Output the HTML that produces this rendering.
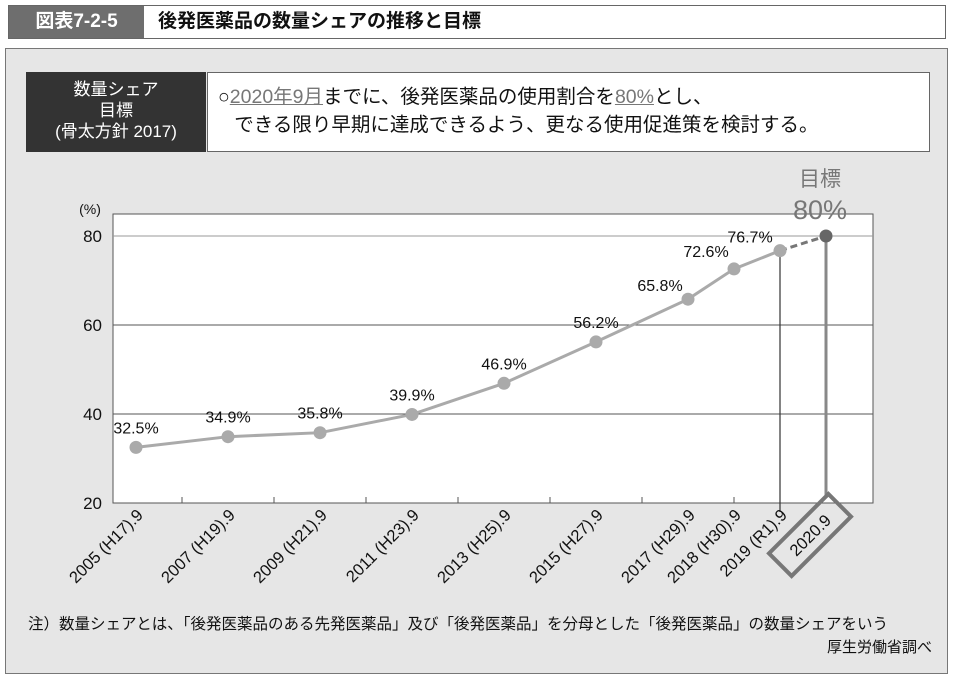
<!DOCTYPE html>
<html><head><meta charset="utf-8"><style>
body{margin:0;width:956px;height:680px;background:#fff;font-family:"Liberation Sans","Noto Sans CJK JP",sans-serif;overflow:hidden;position:relative}
.abs{position:absolute}
</style></head><body>
<div class="abs" style="left:8px;top:5px;width:938px;height:34px;border:1px solid #666;background:#fff;box-sizing:border-box"></div>
<div class="abs" style="left:9px;top:6px;width:135px;height:32px;background:#6e6e6e;color:#fff;font-weight:bold;font-size:19px;line-height:32px;text-align:center">図表7-2-5</div>
<div class="abs" style="left:158px;top:6px;height:32px;line-height:32px;font-weight:bold;font-size:19px;color:#111">後発医薬品の数量シェアの推移と目標</div>
<div class="abs" style="left:5px;top:48px;width:943px;height:626px;background:#e6e6e6;border:1px solid #777;box-sizing:border-box"></div>
<div class="abs" style="left:26px;top:72px;width:180px;height:80px;background:#333;color:#fff;font-size:17px;line-height:21px;text-align:center;padding-top:7px;box-sizing:border-box">数量シェア<br>目標<br>(骨太方針 2017)</div>
<div class="abs" style="left:207px;top:72px;width:723px;height:80px;background:#fff;border:1px solid #666;box-sizing:border-box;font-size:19.5px;line-height:28px;padding:10px 0 0 10px;color:#111;white-space:nowrap">○<span style="color:#777;text-decoration:underline">2020年9月</span>までに、後発医薬品の使用割合を<span style="color:#777;text-decoration:underline">80%</span>とし、<br>&nbsp;&nbsp;&nbsp;できる限り早期に達成できるよう、更なる使用促進策を検討する。</div>
<svg class="abs" style="left:0;top:0" width="956" height="680" id="chart"></svg>
<div class="abs" style="left:28px;top:612px;font-size:15.5px;color:#111;white-space:nowrap">注）数量シェアとは、「後発医薬品のある先発医薬品」及び「後発医薬品」を分母とした「後発医薬品」の数量シェアをいう</div>
<div class="abs" style="right:24px;top:636px;font-size:15px;color:#111">厚生労働省調べ</div>
<script>
const years=[2005,2007,2009,2011,2013,2015,2017,2018,2019];
const labels=["2005 (H17).9","2007 (H19).9","2009 (H21).9","2011 (H23).9","2013 (H25).9","2015 (H27).9","2017 (H29).9","2018 (H30).9","2019 (R1).9"];
const values=[32.5,34.9,35.8,39.9,46.9,56.2,65.8,72.6,76.7];
const targetYear=2020, targetValue=80;
const yTicks=[20,40,60,80];
const xTickYears=[2006,2008,2010,2012,2014,2016,2018];
const NS="http://www.w3.org/2000/svg";
const svg=document.getElementById('chart');
const X=y=>136+(y-2005)*46;
const Y=v=>503-(v-20)*89/20;
function el(t,a,p){const e=document.createElementNS(NS,t);for(const k in a)e.setAttribute(k,a[k]);(p||svg).appendChild(e);return e;}
let r=el('rect',{x:113,y:214,width:760,height:289,fill:'#fff',stroke:'#555','stroke-width':1});

yTicks.forEach(v=>{
  if(v>20){let g=el('line',{x1:113,x2:873,y1:Y(v),y2:Y(v),stroke:v==80?'#999':'#555','stroke-width':1});
  }
  let t=el('text',{x:102,y:Y(v)+6,'text-anchor':'end','font-size':17,fill:'#111'});t.textContent=v;
  
});
let yu=el('text',{x:90,y:214,'text-anchor':'middle','font-size':14,fill:'#111'});yu.textContent='(%)';

xTickYears.forEach(y=>{let t=el('line',{x1:X(y),x2:X(y),y1:497,y2:503,stroke:'#555'});
});
let d1=el('line',{x1:X(2019),x2:X(2019),y1:Y(76.7),y2:512,stroke:'#333','stroke-width':1.2});

let d2=el('line',{x1:X(targetYear),x2:X(targetYear),y1:Y(targetValue),y2:498,stroke:'#888','stroke-width':3});

let pts=years.map((y,i)=>X(y)+','+Y(values[i])).join(' ');
let pl=el('polyline',{points:pts,fill:'none',stroke:'#aaa','stroke-width':3});

let dl=el('line',{x1:X(2019),y1:Y(76.7),x2:X(targetYear),y2:Y(targetValue),stroke:'#777','stroke-width':3,'stroke-dasharray':'7,4'});

years.forEach((y,i)=>{
  let c=el('circle',{cx:X(y),cy:Y(values[i]),r:6.5,fill:'#aaa'});
  
  let t=el('text',{x:X(y),y:Y(values[i])-14,'text-anchor':'middle','font-size':16,fill:'#111'});
  if(i==8){t.setAttribute('x',X(y)-30);t.setAttribute('y',Y(values[i])-8);}
  else if(i==7){t.setAttribute('x',X(y)-28);t.setAttribute('y',Y(values[i])-12);}
  else if(i==6){t.setAttribute('x',X(y)-28);t.setAttribute('y',Y(values[i])-8);}
  t.textContent=values[i].toFixed(1)+'%';
  
  let l=el('text',{transform:`translate(${X(y)+8},${516}) rotate(-45)`,'text-anchor':'end','font-size':16.5,fill:'#111'});
  l.textContent=labels[i];
  
});
let tc=el('circle',{cx:X(targetYear),cy:Y(targetValue),r:6.5,fill:'#666'});

let tt=el('text',{x:X(targetYear)-6,y:186,'text-anchor':'middle','font-size':21,fill:'#777'});tt.textContent='目標';

let tv=el('text',{x:X(targetYear)-6,y:219,'text-anchor':'middle','font-size':27,fill:'#777'});tv.textContent=targetValue+'%';

let g=el('g',{transform:`translate(${X(targetYear)-16},535) rotate(-45)`});
let bx=el('rect',{x:-42,y:-16,width:84,height:32,fill:'none',stroke:'#777','stroke-width':4},g);

let bt=el('text',{x:0,y:6,'text-anchor':'middle','font-size':16.5,fill:'#111'},g);bt.textContent='2020.9';

</script>
</body></html>
